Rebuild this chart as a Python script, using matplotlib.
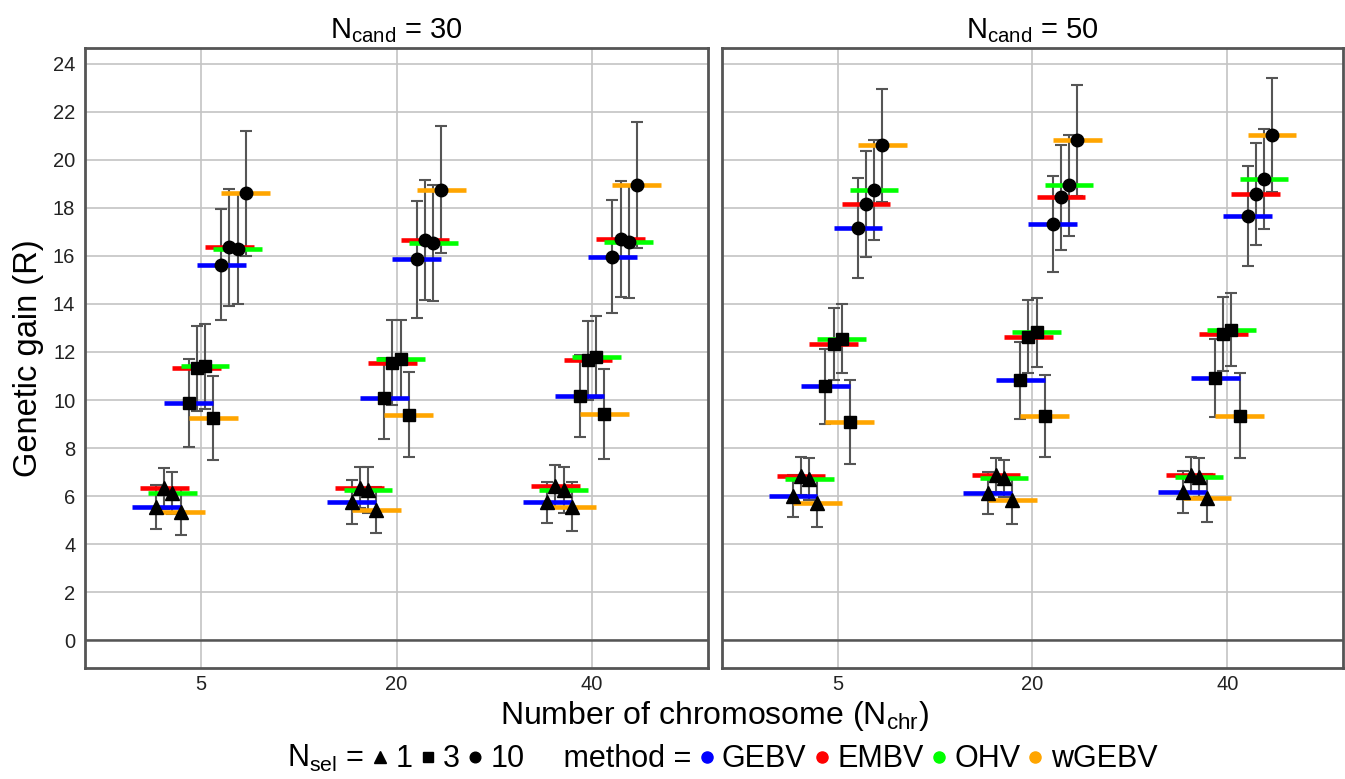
import numpy as np
import matplotlib
matplotlib.use('Agg')
import matplotlib.pyplot as plt
from matplotlib.lines import Line2D

plt.rcParams['font.family'] = ['Liberation Sans', 'DejaVu Sans']

chromosomes = ['5', '20', '40']
methods = ['GEBV', 'EMBV', 'OHV', 'wGEBV']
method_colors = ['#0000FF', '#FF0000', '#00FF00', '#FFA500']
nsel_levels = ['1', '3', '10']
nsel_markers = ['^', 's', 'o']
ncand_levels = ['30', '50']

# mean genetic gain: [chromosome][nsel][method]
gain_30 = [
    [[5.55, 6.32, 6.13, 5.35], [9.87, 11.32, 11.40, 9.24], [15.63, 16.36, 16.30, 18.60]],
    [[5.77, 6.36, 6.26, 5.43], [10.07, 11.55, 11.69, 9.38], [15.85, 16.66, 16.54, 18.76]],
    [[5.75, 6.42, 6.26, 5.57], [10.16, 11.65, 11.79, 9.41], [15.97, 16.70, 16.58, 18.94]],
]
sd_30 = [
    [[0.90, 0.85, 0.87, 0.95], [1.82, 1.78, 1.76, 1.74], [2.30, 2.43, 2.30, 2.60]],
    [[0.92, 0.84, 0.94, 0.97], [1.68, 1.77, 1.63, 1.77], [2.43, 2.50, 2.42, 2.66]],
    [[0.86, 0.86, 0.95, 1.00], [1.70, 1.66, 1.70, 1.88], [2.35, 2.42, 2.33, 2.63]],
]
gain_50 = [
    [[6.01, 6.84, 6.72, 5.72], [10.57, 12.35, 12.56, 9.08], [17.16, 18.16, 18.74, 20.60]],
    [[6.12, 6.88, 6.74, 5.82], [10.82, 12.64, 12.82, 9.34], [17.33, 18.43, 18.93, 20.81]],
    [[6.19, 6.88, 6.78, 5.94], [10.92, 12.75, 12.92, 9.35], [17.66, 18.58, 19.18, 21.04]],
]
sd_50 = [
    [[0.87, 0.80, 0.87, 1.00], [1.55, 1.50, 1.42, 1.76], [2.07, 2.20, 2.10, 2.36]],
    [[0.87, 0.70, 0.76, 0.97], [1.60, 1.53, 1.44, 1.71], [2.00, 2.17, 2.10, 2.31]],
    [[0.87, 0.76, 0.82, 1.00], [1.64, 1.53, 1.52, 1.78], [2.07, 2.12, 2.08, 2.37]],
]
gains = [gain_30, gain_50]
sds = [sd_30, sd_50]

fig = plt.figure(figsize=(13.45, 7.79), dpi=100)
axes = [fig.add_axes([0.0632, 0.1425, 0.4632, 0.7959]),
        fig.add_axes([0.5368, 0.1425, 0.4617, 0.7959])]

dodge = 0.5 / 12
bar_w = 0.25
sizes = {'^': 10, 's': 8, 'o': 9}

for p, ax in enumerate(axes):
    g = np.array(gains[p])
    s = np.array(sds[p])
    for i in range(len(chromosomes)):
        for j, mk in enumerate(nsel_markers):
            for k, col in enumerate(method_colors):
                x = i + 1 + (j * 4 + k - 5.5) * dodge
                y = g[i, j, k]
                ax.errorbar(x, y, yerr=s[i, j, k], fmt='none', ecolor='#555555',
                            elinewidth=1.5, capsize=4, capthick=1.5, zorder=3)
                ax.hlines(y, x - bar_w / 2, x + bar_w / 2, colors=col, lw=3.3, zorder=4)
                ax.plot(x, y, marker=mk, color='black', ms=sizes[mk], ls='none', zorder=5)
    ax.axhline(0, color='#555555', lw=1.8, zorder=2)
    ax.set_xlim(0.407, 3.593)
    ax.set_ylim(-1.15, 24.65)
    ax.set_xticks([1, 2, 3])
    ax.set_xticklabels(chromosomes)
    ax.set_yticks(range(0, 25, 2))
    ax.grid(True, color='#c4c4c4', lw=1.2, zorder=0)
    ax.set_axisbelow(True)
    ax.tick_params(axis='y', length=0, labelsize=14.5, pad=7, colors='#222222')
    ax.tick_params(axis='x', length=0, labelsize=14.5, pad=5, colors='#222222')
    for sp in ax.spines.values():
        sp.set_color('#555555')
        sp.set_linewidth(2)
    ax.set_title(r'$\mathregular{N_{cand}}$ = ' + ncand_levels[p], fontsize=21, pad=7)
    if p == 1:
        ax.set_yticklabels([])

fig.text(0.531, 0.081, r'Number of chromosome ($\mathregular{N_{chr}}$)', ha='center',
         va='center', fontsize=23)
fig.text(0.021, 0.54, 'Genetic gain (R)', rotation=90, ha='center', va='center', fontsize=23.5)

blank = Line2D([], [], ls='none', marker=None)
handles = [blank]
labels = [r'$\mathregular{N_{sel}}$ =']
for mk, lab in zip(nsel_markers, nsel_levels):
    handles.append(Line2D([], [], ls='none', marker=mk, color='black', ms=sizes[mk] * 0.85))
    labels.append(lab)
handles.append(blank)
labels.append(' method =')
for col, lab in zip(method_colors, methods):
    handles.append(Line2D([], [], ls='none', marker='o', color=col, ms=8))
    labels.append(lab)

fig.legend(handles, labels, loc='center', bbox_to_anchor=(0.528, 0.026), ncol=len(handles),
           frameon=False, fontsize=22, handlelength=0.6, handletextpad=0.2,
           columnspacing=0.2, borderpad=0)

fig.savefig('out.png', dpi=100)
